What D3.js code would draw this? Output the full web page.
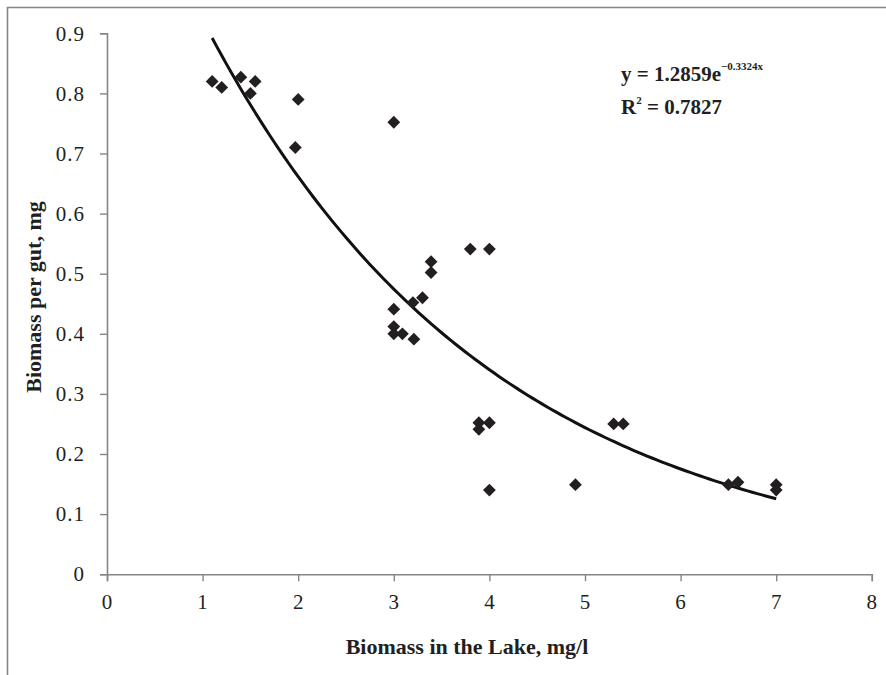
<!DOCTYPE html>
<html>
<head>
<meta charset="utf-8">
<script src="https://cdn.jsdelivr.net/npm/d3@7"></script>
<style>
  html, body { margin: 0; padding: 0; background: #fff; }
  svg { display: block; }
  text { font-family: "Liberation Serif", "DejaVu Serif", serif; fill: #231f20; }
</style>
</head>
<body>
<svg id="chart" width="886" height="675"></svg>
<script>
// Data
const xValues = [1.1, 1.2, 1.4, 1.55, 1.5, 2.0, 1.97, 3.0, 3.0, 3.0, 3.0, 3.09, 3.21, 3.2, 3.3, 3.39, 3.39, 3.8, 4.0, 3.89, 3.89, 4.0, 4.0, 4.9, 5.3, 5.4, 6.5, 6.6, 7.0, 7.0];
const yValues = [0.82, 0.81, 0.827, 0.82, 0.80, 0.79, 0.71, 0.752, 0.441, 0.412, 0.40, 0.40, 0.391, 0.452, 0.46, 0.52, 0.502, 0.541, 0.541, 0.252, 0.241, 0.252, 0.14, 0.149, 0.25, 0.25, 0.149, 0.153, 0.149, 0.14];
const xTicks = [0, 1, 2, 3, 4, 5, 6, 7, 8];
const yTicks = [0, 0.1, 0.2, 0.3, 0.4, 0.5, 0.6, 0.7, 0.8, 0.9];
// Trendline coefficients as printed on the chart: y = a * e^(b x)
const trendA = 1.2859;
const trendB = -0.3324;
const trendRange = [1.1, 7.0];

const svg = d3.select("#chart");
const x = d3.scaleLinear().domain([0, 8]).range([107, 871.8]);
const y = d3.scaleLinear().domain([0, 0.9]).range([574.2, 33.3]);
const axisColor = "#858585";

// outer frame (top and left visible)
svg.append("path")
  .attr("d", "M7.5,675 L7.5,7.5 L886,7.5")
  .attr("fill", "none").attr("stroke", axisColor).attr("stroke-width", 1.6);

// Axes
const xAxis = svg.append("g").attr("transform", `translate(0,${y(0)})`)
  .call(d3.axisBottom(x).tickValues(xTicks).tickSize(7).tickPadding(13).tickFormat(d3.format("d")));
const yAxis = svg.append("g").attr("transform", `translate(${x(0)},0)`)
  .call(d3.axisLeft(y).tickValues(yTicks).tickSize(7).tickPadding(15).tickFormat(d => d === 0 ? "0" : d3.format(".1f")(d)));
[xAxis, yAxis].forEach(g => {
  g.select(".domain").attr("stroke", axisColor).attr("stroke-width", 1.6);
  g.selectAll(".tick line").attr("stroke", axisColor).attr("stroke-width", 1.4);
  g.selectAll(".tick text").attr("font-family", "Liberation Serif").attr("font-size", 21)
    .attr("letter-spacing", 1).attr("fill", "#231f20");
});

// Trendline
const trendX = d3.range(trendRange[0], trendRange[1] + 1e-9, 0.05);
const line = d3.line().x(d => x(d)).y(d => y(trendA * Math.exp(trendB * d)));
svg.append("path").datum(trendX)
  .attr("d", line).attr("fill", "none").attr("stroke", "#111").attr("stroke-width", 3);

// Points (diamonds)
const sym = d3.symbol().type(d3.symbolSquare).size(82);
svg.append("g").selectAll("path").data(xValues.map((v, i) => [v, yValues[i]]))
  .join("path")
  .attr("d", sym)
  .attr("transform", d => `translate(${x(d[0])},${y(d[1])}) rotate(45)`)
  .attr("fill", "#231f20");

// Axis titles
svg.append("text").attr("x", 467).attr("y", 654).attr("text-anchor", "middle")
  .attr("font-size", 22).attr("font-weight", "bold").text("Biomass in the Lake, mg/l");
svg.append("text").attr("transform", "translate(41,297) rotate(-90)").attr("text-anchor", "middle")
  .attr("font-size", 22).attr("font-weight", "bold").text("Biomass per gut, mg");

// Equation
const eq = svg.append("text").attr("x", 621).attr("y", 81).attr("font-size", 21).attr("font-weight", "bold");
eq.append("tspan").text("y = 1.2859e");
eq.append("tspan").attr("dy", -11).attr("font-size", 11).text("\u22120.3324x");
const r2 = svg.append("text").attr("x", 621).attr("y", 114).attr("font-size", 21).attr("font-weight", "bold");
r2.append("tspan").text("R");
r2.append("tspan").attr("dy", -10).attr("font-size", 11).text("2");
r2.append("tspan").attr("dy", 10).text(" = 0.7827");
</script>
</body>
</html>
